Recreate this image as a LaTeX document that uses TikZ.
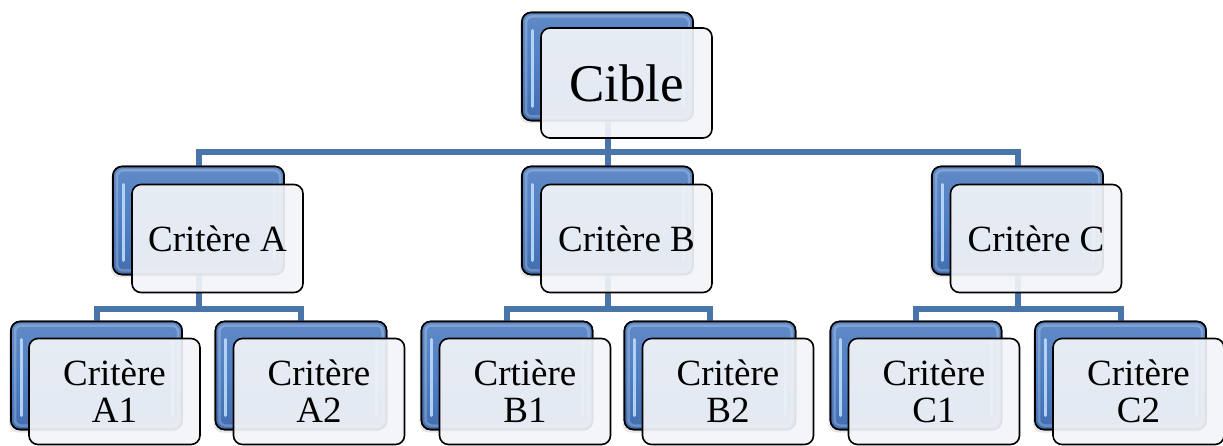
\documentclass[tikz,border=0pt]{standalone}
\usepackage{fontspec}
\setmainfont{Liberation Serif}
\usetikzlibrary{shadows}

\definecolor{linkblue}{RGB}{74,117,170}
\definecolor{backtop}{RGB}{96,138,198}
\definecolor{backmid}{RGB}{80,127,195}
\definecolor{backbot}{RGB}{66,110,176}
\definecolor{glint}{RGB}{195,225,255}
\definecolor{frontfill}{RGB}{242,244,248}

\tikzset{
  backbox/.style={draw=black, line width=1.6pt, rounded corners=9pt,
    minimum width=171pt, minimum height=108pt, inner sep=0pt,
    top color=backtop, bottom color=backbot, middle color=backmid,
    path picture={
      % bevel rim and glossy strips inside the blue card
      \draw[white, opacity=0.22, line width=2.5pt, rounded corners=6pt]
        ([xshift=4pt,yshift=-4pt]path picture bounding box.north west) rectangle
        ([xshift=-4pt,yshift=4pt]path picture bounding box.south east);
      \draw[glint, opacity=0.85, line width=3pt, line cap=round]
        ([xshift=10pt,yshift=-18pt]path picture bounding box.north west)
        -- ([xshift=10pt,yshift=14pt]path picture bounding box.south west);
      \draw[glint, opacity=0.6, line width=3pt, line cap=round]
        ([xshift=-10pt,yshift=-18pt]path picture bounding box.north east)
        -- ([xshift=-10pt,yshift=14pt]path picture bounding box.south east);
    }},
  cardshadow/.style={drop shadow={opacity=0.2, shadow xshift=-2pt, shadow yshift=-3pt}},
  frontbox/.style={draw=black, line width=1.6pt, rounded corners=9pt,
    minimum width=171pt, minimum height=108pt, inner sep=0pt,
    fill=frontfill, fill opacity=0.92, text opacity=1, align=center,
    font=\fontsize{37}{37}\selectfont},
  conn/.style={draw=linkblue, line width=6pt},
}

\begin{document}
\begin{tikzpicture}[x=1pt, y=-1pt]
\useasboundingbox (0,0) rectangle (1223,446);

% bar heights of the two connector levels
\coordinate (bar1) at (0,152);
\coordinate (bar2) at (0,309);

% back cards
\node[backbox, cardshadow] (cibleb) at (607.5,66.5) {};
\node[backbox, cardshadow] (ab) at (198.5,220.5) {};
\node[backbox, cardshadow] (bb) at (607.5,220.5) {};
\node[backbox, cardshadow] (cb) at (1017.5,220.5) {};
\node[backbox, cardshadow] (a1b) at (96.5,375.5) {};
\node[backbox, cardshadow] (a2b) at (301,375.5) {};
\node[backbox, cardshadow] (b1b) at (507,375.5) {};
\node[backbox, cardshadow] (b2b) at (710,375.5) {};
\node[backbox, cardshadow] (c1b) at (916,375.5) {};
\node[backbox, cardshadow] (c2b) at (1120.5,375.5) {};

% connectors
\draw[conn] (cibleb.center) -- (cibleb.center |- bar1) -| (ab.north);
\draw[conn] (cibleb.center |- bar1) -| (cb.north);
\draw[conn] (cibleb.center |- bar1) -- (bb.north);
\draw[conn] (ab.center) -- (ab.center |- bar2) -| (a1b.north);
\draw[conn] (ab.center |- bar2) -| (a2b.north);
\draw[conn] (bb.center) -- (bb.center |- bar2) -| (b1b.north);
\draw[conn] (bb.center |- bar2) -| (b2b.north);
\draw[conn] (cb.center) -- (cb.center |- bar2) -| (c1b.north);
\draw[conn] (cb.center |- bar2) -| (c2b.north);

% redraw back cards over the connector stubs
\foreach \n in {cibleb,ab,bb,cb,a1b,a2b,b1b,b2b,c1b,c2b}
  \node[backbox] at (\n.center) {};

% front cards with the labels
\node[frontbox, minimum height=110pt, font=\fontsize{53}{54}\selectfont] (cible) at (626.5,83) {Cible};
\node[frontbox] (a) at (217.5,238.5) {Critère A};
\node[frontbox] (b) at (626.5,238.5) {Critère B};
\node[frontbox] (c) at (1036,238.5) {Critère C};
\node[frontbox, minimum height=106pt] (a1) at (114.5,391.5) {Critère\\A1};
\node[frontbox, minimum height=106pt] (a2) at (319,391.5) {Critère\\A2};
\node[frontbox, minimum height=106pt] (b1) at (525,391.5) {Crtière\\B1};
\node[frontbox, minimum height=106pt] (b2) at (728,391.5) {Critère\\B2};
\node[frontbox, minimum height=106pt] (c1) at (934,391.5) {Critère\\C1};
\node[frontbox, minimum height=106pt] (c2) at (1138.5,391.5) {Critère\\C2};
\end{tikzpicture}
\end{document}
